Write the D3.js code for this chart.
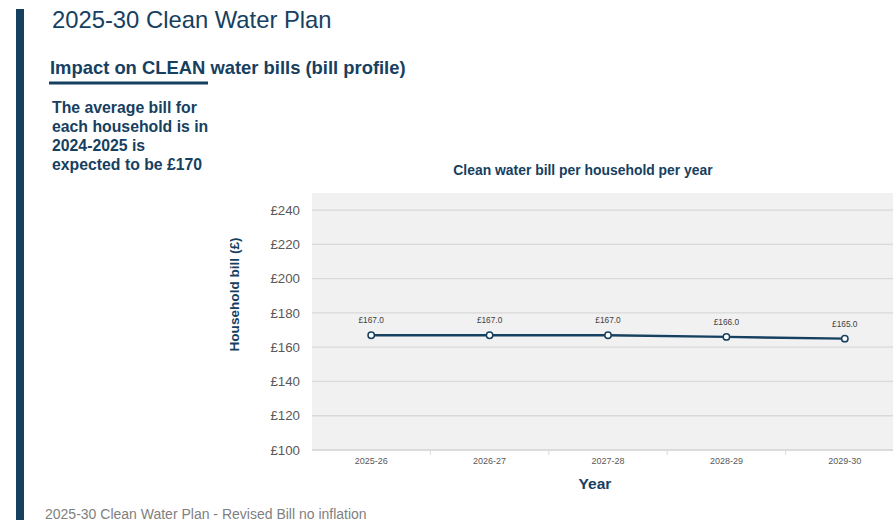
<!DOCTYPE html>
<html>
<head>
<meta charset="utf-8">
<script src="https://cdn.jsdelivr.net/npm/d3@7/dist/d3.min.js"></script>
<style>
  html, body { margin: 0; padding: 0; background: #ffffff; }
  svg { display: block; font-family: "Liberation Sans", Arial, sans-serif; }
</style>
</head>
<body>
<svg id="chart" width="893" height="520"></svg>
<script>
// Bill profile data
const years = ["2025-26", "2026-27", "2027-28", "2028-29", "2029-30"];
const bills = [167.0, 167.0, 167.0, 166.0, 165.0];
const yTicks = [100, 120, 140, 160, 180, 200, 220, 240];
const introLines = [
  "The average bill for",
  "each household is in",
  "2024-2025 is",
  "expected to be £170"
];

const navy = "#16405f";
const svg = d3.select("#chart");

// Page furniture
svg.append("rect").attr("x", 16).attr("y", 9).attr("width", 8).attr("height", 511).attr("fill", navy);

svg.append("text").attr("x", 52).attr("y", 28.3)
  .attr("font-size", 23.8).attr("fill", navy)
  .text("2025-30 Clean Water Plan");

svg.append("text").attr("x", 50).attr("y", 74)
  .attr("font-size", 18.4).attr("font-weight", "bold").attr("fill", navy)
  .text("Impact on CLEAN water bills (bill profile)");
svg.append("rect").attr("x", 49).attr("y", 81.5).attr("width", 159).attr("height", 3).attr("fill", navy);

svg.append("g").selectAll("text").data(introLines).join("text")
  .attr("x", 52).attr("y", (d, i) => 112.5 + i * 19.2)
  .attr("font-size", 15.8).attr("font-weight", "bold").attr("fill", navy)
  .text(d => d);

svg.append("text").attr("x", 45).attr("y", 518.5)
  .attr("font-size", 14).attr("fill", "#7f7f7f")
  .text("2025-30 Clean Water Plan - Revised Bill no inflation");

// Chart
const x = d3.scaleBand().domain(years).range([312, 904]);
const y = d3.scaleLinear().domain([100, 250]).range([450, 193]);

svg.append("text").attr("x", 583).attr("y", 175)
  .attr("text-anchor", "middle").attr("font-size", 13.9).attr("font-weight", "bold").attr("fill", navy)
  .text("Clean water bill per household per year");

svg.append("rect").attr("x", 312).attr("y", y(250)).attr("width", 592).attr("height", y(100) - y(250)).attr("fill", "#f1f1f1");

// Gridlines
svg.append("g").selectAll("line").data(yTicks).join("line")
  .attr("x1", 312).attr("x2", 904)
  .attr("y1", d => y(d)).attr("y2", d => y(d))
  .attr("stroke", "#d9d9d9").attr("stroke-width", 1.3);

// Y axis labels
const yAxis = d3.axisLeft(y).tickValues(yTicks).tickSize(0).tickPadding(12).tickFormat(d => "£" + d);
const gy = svg.append("g").attr("transform", "translate(312,0)").call(yAxis);
gy.select(".domain").remove();
gy.selectAll("text").attr("font-size", 13.3).attr("fill", "#595959").attr("font-family", "Liberation Sans, Arial, sans-serif");

// X axis with boundary ticks
const gx = svg.append("g").attr("transform", "translate(0,450)");
gx.append("line").attr("x1", 312).attr("x2", 904).attr("y1", 0).attr("y2", 0).attr("stroke", "#d9d9d9").attr("stroke-width", 1.3);
gx.selectAll("line.bound").data(years.slice(1)).join("line").attr("class", "bound")
  .attr("x1", d => x(d)).attr("x2", d => x(d)).attr("y1", 0).attr("y2", 5)
  .attr("stroke", "#d9d9d9").attr("stroke-width", 1);
gx.selectAll("text").data(years).join("text")
  .attr("x", d => x(d) + x.bandwidth() / 2).attr("y", 14)
  .attr("text-anchor", "middle").attr("font-size", 9).attr("fill", "#595959")
  .text(d => d);

svg.append("text").attr("x", 595).attr("y", 489)
  .attr("text-anchor", "middle").attr("font-size", 15.5).attr("font-weight", "bold").attr("fill", navy)
  .text("Year");

svg.append("text")
  .attr("transform", "translate(239,294.5) rotate(-90)")
  .attr("text-anchor", "middle").attr("font-size", 13.6).attr("font-weight", "bold").attr("fill", navy)
  .text("Household bill (£)");

// Series line, markers and value labels
const cx = d => x(d) + x.bandwidth() / 2;
const pts = years.map((yr, i) => ({ yr, v: bills[i] }));

svg.append("path").datum(pts)
  .attr("fill", "none").attr("stroke", navy).attr("stroke-width", 2.4)
  .attr("d", d3.line().x(d => cx(d.yr)).y(d => y(d.v)));

svg.append("g").selectAll("circle").data(pts).join("circle")
  .attr("cx", d => cx(d.yr)).attr("cy", d => y(d.v)).attr("r", 3.2)
  .attr("fill", "#ffffff").attr("stroke", navy).attr("stroke-width", 1.5);

svg.append("g").selectAll("text").data(pts).join("text")
  .attr("x", d => cx(d.yr)).attr("y", d => y(d.v) - 12)
  .attr("text-anchor", "middle").attr("font-size", 8.3).attr("fill", "#404040")
  .text(d => "£" + d.v.toFixed(1));
</script>
</body>
</html>
